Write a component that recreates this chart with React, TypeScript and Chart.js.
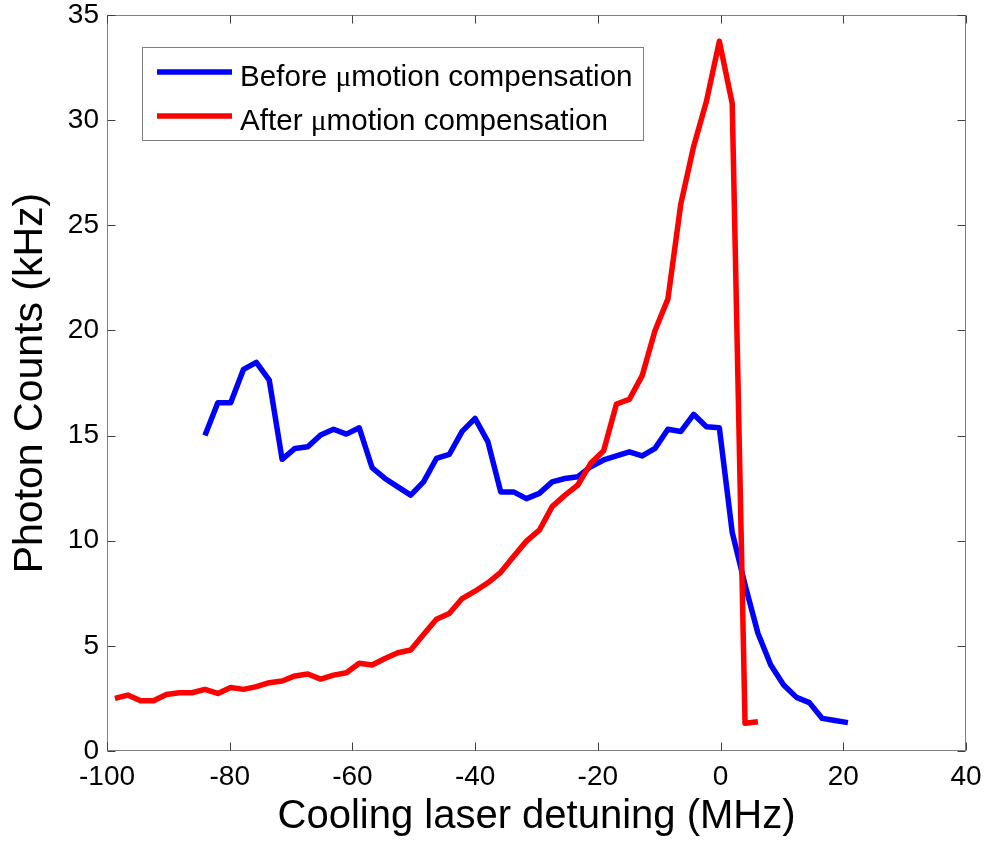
import React, { useEffect, useRef } from 'react';
import { Chart, registerables } from 'chart.js';

Chart.register(...registerables);

// ---------- data ----------
const beforeX = [
  -84.04, -81.94, -79.84, -77.75, -75.66, -73.56, -71.46, -69.37, -67.27, -65.18,
  -63.08, -60.98, -58.89, -56.79, -54.7, -52.6, -50.5, -48.41, -46.31, -44.22,
  -42.12, -40.02, -37.93, -35.83, -33.74, -31.64, -29.54, -27.45, -25.35, -23.26,
  -21.16, -19.06, -16.97, -14.87, -12.78, -10.68, -8.58, -6.49, -4.39, -2.3,
  -0.2, 1.9, 3.99, 6.09, 8.18, 10.28, 12.38, 14.47, 16.57, 18.66, 20.76,
];
const beforeY = [
  15.0, 16.56, 16.56, 18.15, 18.48, 17.64, 13.87, 14.39, 14.47, 15.03,
  15.3, 15.07, 15.37, 13.47, 12.96, 12.56, 12.17, 12.8, 13.91, 14.1,
  15.2, 15.82, 14.71, 12.32, 12.32, 12.0, 12.25, 12.8, 12.96, 13.04,
  13.52, 13.84, 14.03, 14.23, 14.03, 14.39, 15.3, 15.19, 16.01, 15.42,
  15.37, 10.4, 7.9, 5.6, 4.09, 3.14, 2.55, 2.3, 1.55, 1.45, 1.35,
];
const afterX = [
  -98.71, -96.62, -94.52, -92.42, -90.33, -88.23, -86.14,
  -84.04, -81.94, -79.84, -77.75, -75.66, -73.56, -71.46, -69.37, -67.27, -65.18,
  -63.08, -60.98, -58.89, -56.79, -54.7, -52.6, -50.5, -48.41, -46.31, -44.22,
  -42.12, -40.02, -37.93, -35.83, -33.74, -31.64, -29.54, -27.45, -25.35, -23.26,
  -21.16, -19.06, -16.97, -14.87, -12.78, -10.68, -8.58, -6.49, -4.39, -2.3,
  -0.2, 1.9, 3.99, 6.09,
];
const afterY = [
  2.5, 2.66, 2.39, 2.39, 2.69, 2.77, 2.77,
  2.93, 2.74, 3.02, 2.93, 3.06, 3.25, 3.33, 3.57, 3.66, 3.42,
  3.61, 3.72, 4.17, 4.09, 4.4, 4.67, 4.8, 5.54, 6.27, 6.54,
  7.25, 7.6, 8.0, 8.5, 9.25, 9.98, 10.5, 11.62, 12.17, 12.65,
  13.68, 14.28, 16.5, 16.72, 17.85, 20.0, 21.5, 26.0, 28.75, 30.9,
  33.75, 30.8, 1.32, 1.39,
];
const seriesLabels = ['Before \u03bcmotion compensation', 'After \u03bcmotion compensation'];
const seriesColors = ['#0000ff', '#ff0000'];
const xTicks = [-100, -80, -60, -40, -20, 0, 20, 40];
const yTicks = [0, 5, 10, 15, 20, 25, 30, 35];
const xTitle = 'Cooling laser detuning (MHz)';
const yTitle = 'Photon Counts (kHz)';

const SANS = "'Liberation Sans', Arial, Helvetica, sans-serif";
const SERIF = "'Liberation Serif', 'Times New Roman', serif";

const matlabPlugin = {
  id: 'matlabFrame',
  beforeDatasetsDraw(chart: any) {
    const { ctx, chartArea, scales } = chart;
    const l = Math.round(chartArea.left) + 0.5;
    const r = Math.round(chartArea.right) - 0.5;
    const t = Math.round(chartArea.top) + 0.5;
    const b = Math.round(chartArea.bottom) - 0.5;
    ctx.save();
    ctx.strokeStyle = '#808080';
    ctx.lineWidth = 1;
    ctx.strokeRect(l, t, r - l, b - t);
    const tl = 8;
    ctx.strokeStyle = '#404040';
    ctx.beginPath();
    scales.x.ticks.forEach((tk: any) => {
      const px = Math.round(scales.x.getPixelForValue(tk.value)) + 0.5;
      ctx.moveTo(px, b); ctx.lineTo(px, b - tl);
      ctx.moveTo(px, t); ctx.lineTo(px, t + tl);
    });
    scales.y.ticks.forEach((tk: any) => {
      const py = Math.round(scales.y.getPixelForValue(tk.value)) + 0.5;
      ctx.moveTo(l, py); ctx.lineTo(l + tl, py);
      ctx.moveTo(r, py); ctx.lineTo(r - tl, py);
    });
    ctx.stroke();
    ctx.restore();
  },
  afterDraw(chart: any) {
    const { ctx } = chart;
    ctx.save();
    const bx = 142.5, by = 47.5, bw = 501, bh = 93;
    ctx.fillStyle = '#ffffff';
    ctx.fillRect(bx, by, bw, bh);
    ctx.strokeStyle = '#808080';
    ctx.lineWidth = 1;
    ctx.strokeRect(bx, by, bw, bh);
    const rowsY = [72, 116];
    chart.data.datasets.forEach((ds: any, i: number) => {
      const ry = rowsY[i];
      ctx.strokeStyle = ds.borderColor;
      ctx.lineWidth = 5.5;
      ctx.lineCap = 'butt';
      ctx.beginPath();
      ctx.moveTo(157, ry);
      ctx.lineTo(232, ry);
      ctx.stroke();
      const parts = String(ds.label).split('\u03bc');
      let x = 240;
      const base = ry + 14;
      ctx.fillStyle = '#000';
      ctx.textBaseline = 'alphabetic';
      ctx.textAlign = 'left';
      ctx.font = `29.6px ${SANS}`;
      ctx.fillText(parts[0], x, base);
      x += ctx.measureText(parts[0]).width;
      ctx.font = `29.6px ${SERIF}`;
      ctx.fillText('\u03bc', x, base);
      x += ctx.measureText('\u03bc').width;
      ctx.font = `29.6px ${SANS}`;
      ctx.fillText(parts[1], x, base);
    });
    ctx.restore();
  },
};

export default function App() {
  const ref = useRef<HTMLCanvasElement | null>(null);
  useEffect(() => {
    if (!ref.current) return;
    const chart = new Chart(ref.current, {
      type: 'line',
      data: {
        datasets: [
          {
            label: seriesLabels[0],
            data: beforeX.map((x, i) => ({ x, y: beforeY[i] })),
            borderColor: seriesColors[0],
            backgroundColor: seriesColors[0],
            borderWidth: 5.5,
            pointRadius: 0,
            order: 1,
          },
          {
            label: seriesLabels[1],
            data: afterX.map((x, i) => ({ x, y: afterY[i] })),
            borderColor: seriesColors[1],
            backgroundColor: seriesColors[1],
            borderWidth: 5.5,
            pointRadius: 0,
            order: 0,
          },
        ],
      },
      options: {
        animation: false,
        responsive: false,
        devicePixelRatio: 1,
        layout: { padding: { left: 0, right: 20, top: 15, bottom: 0 } },
        elements: {
          line: { tension: 0, borderJoinStyle: 'round', borderCapStyle: 'butt' },
          point: { radius: 0 },
        },
        plugins: { legend: { display: false }, tooltip: { enabled: false } },
        scales: {
          x: {
            type: 'linear',
            min: -100,
            max: 40,
            afterBuildTicks: (s: any) => { s.ticks = xTicks.map((v) => ({ value: v })); },
            grid: { display: false, drawTicks: false, tickLength: 0 },
            border: { display: false },
            ticks: { font: { family: SANS, size: 28 }, color: '#000', padding: 9, maxRotation: 0, autoSkip: false },
            title: { display: true, text: xTitle, color: '#000', font: { family: SANS, size: 40 }, padding: { top: 0, bottom: 1 } },
            afterFit: (s: any) => { s.height = 91; s.paddingLeft = 0; s.paddingRight = 0; },
          },
          y: {
            type: 'linear',
            min: 0,
            max: 35,
            afterBuildTicks: (s: any) => { s.ticks = yTicks.map((v) => ({ value: v })); },
            grid: { display: false, drawTicks: false, tickLength: 0 },
            border: { display: false },
            ticks: { font: { family: SANS, size: 28 }, color: '#000', padding: 8 },
            title: { display: true, text: yTitle, color: '#000', font: { family: SANS, size: 41 }, padding: { top: 6, bottom: 0 } },
            afterFit: (s: any) => { s.width = 107; s.paddingTop = 0; s.paddingBottom = 0; },
          },
        },
      },
      plugins: [matlabPlugin],
    } as any);
    return () => chart.destroy();
  }, []);
  return (
    <div style={{ position: 'absolute', left: 0, top: 0, width: 986, height: 842, background: '#fff' }}>
      <canvas ref={ref} width={986} height={842} style={{ display: 'block' }} />
    </div>
  );
}
